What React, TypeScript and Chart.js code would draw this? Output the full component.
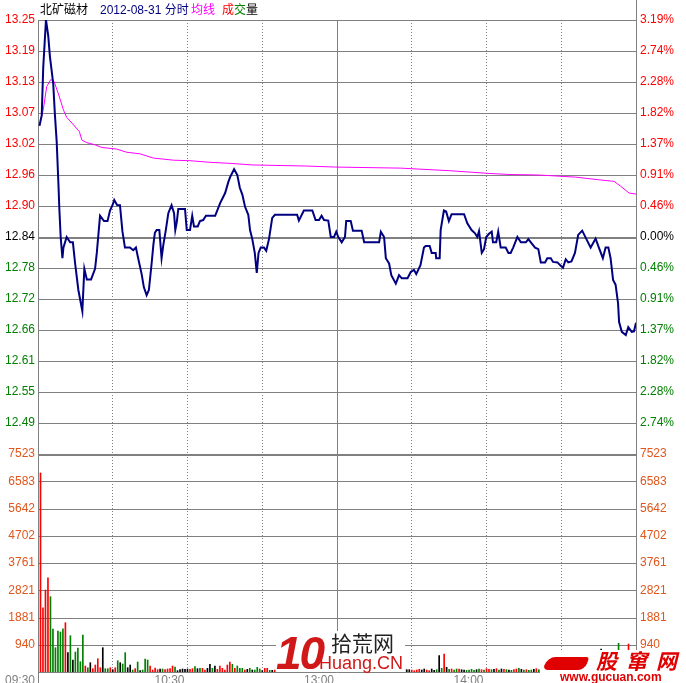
import React, { useEffect, useRef } from 'react';
import { Chart, registerables } from 'chart.js';

Chart.register(...registerables);

// ---------- data ----------
const prevClose = 12.84;
const maxPct = 3.19;
const priceTickLabels = ['13.25', '13.19', '13.13', '13.07', '13.02', '12.96', '12.90', '12.84', '12.78', '12.72', '12.66', '12.61', '12.55', '12.49'];
const pctTickLabels = ['3.19%', '2.74%', '2.28%', '1.82%', '1.37%', '0.91%', '0.46%', '0.00%', '0.46%', '0.91%', '1.37%', '1.82%', '2.28%', '2.74%'];
const volMax = 7523;
const volTickLabels = ['7523', '6583', '5642', '4702', '3761', '2821', '1881', '940'];
const timeTicks = [0, 60, 120, 180];
const timeLabels = ['09:30', '10:30', '13:00', '14:00'];
const gridMinutes = [30, 60, 90, 120, 150, 180, 210];

const priceMinutes = [
  0.6, 1.5, 2.1, 3.2, 4.1, 4.8, 6.1, 6.8, 7.5, 8.2, 8.6, 9.1, 9.8, 10.2, 11.5, 12.9, 14.0, 14.9, 16.2, 17.2,
  17.8, 18.6, 19.6, 21.3, 22.9, 23.6, 24.9, 26.5, 27.9, 28.9, 29.9, 30.6, 31.8, 32.9, 33.9, 34.9, 36.9, 38.2, 39.3, 40.2,
  41.6, 42.5, 43.6, 44.5, 45.6, 46.3, 46.9, 47.6, 48.7, 49.6, 50.3, 51.3, 52.3, 53.6, 54.6, 55.1, 55.7, 56.3, 59.0, 59.7,
  61.0, 61.9, 62.6, 64.1, 65.0, 66.3, 67.4, 71.1, 73.1, 75.1, 76.4, 77.1, 78.7, 80.0, 81.0, 82.0, 83.1, 84.4, 85.1, 86.0,
  87.0, 87.8, 88.5, 89.4, 90.7, 91.6, 92.7, 94.0, 95.1, 104.0, 104.7, 106.7, 110.1, 111.4, 112.8, 113.8, 114.8, 116.5, 117.5, 118.8,
  119.7, 120.5, 121.9, 123.2, 123.7, 125.5, 126.4, 129.9, 130.9, 136.9, 137.6, 138.9, 139.6, 140.9, 141.8, 143.6, 144.9, 146.0, 148.3, 149.6,
  150.9, 151.8, 153.5, 154.9, 155.6, 157.2, 158.0, 159.6, 159.8, 161.2, 161.6, 162.9, 163.8, 164.9, 166.0, 171.0, 172.3, 174.0, 175.4, 176.3,
  177.0, 178.1, 179.0, 179.9, 181.0, 182.1, 182.6, 183.9, 184.7, 185.7, 187.7, 188.8, 189.7, 190.7, 192.4, 193.8, 195.8, 196.8, 197.8, 199.5,
  200.8, 201.8, 203.5, 204.4, 205.8, 206.7, 208.5, 209.5, 210.7, 211.8, 212.8, 214.1, 215.5, 216.8, 218.4, 220.0, 221.8, 223.8, 225.1, 226.7,
  227.8, 228.9, 229.8, 230.8, 231.8, 232.8, 233.2, 234.3, 235.9, 236.9, 238.3, 239.2, 240.0,
];
const priceValues = [
  13.05, 13.07, 13.16, 13.25, 13.22, 13.18, 13.13, 13.07, 13.02, 12.94, 12.89, 12.84, 12.80, 12.82, 12.84, 12.83, 12.83, 12.79, 12.74, 12.715,
  12.70, 12.78, 12.76, 12.76, 12.78, 12.81, 12.88, 12.87, 12.87, 12.89, 12.90, 12.91, 12.90, 12.90, 12.85, 12.82, 12.82, 12.815, 12.82, 12.80,
  12.77, 12.745, 12.73, 12.74, 12.79, 12.825, 12.848, 12.853, 12.853, 12.80, 12.825, 12.853, 12.885, 12.90, 12.885, 12.853, 12.868, 12.893, 12.893, 12.853,
  12.853, 12.88, 12.86, 12.86, 12.87, 12.872, 12.88, 12.88, 12.904, 12.923, 12.944, 12.953, 12.968, 12.957, 12.933, 12.92, 12.897, 12.882, 12.853, 12.836,
  12.81, 12.772, 12.81, 12.82, 12.82, 12.814, 12.836, 12.876, 12.882, 12.882, 12.871, 12.89, 12.89, 12.872, 12.872, 12.88, 12.872, 12.871, 12.84, 12.84,
  12.85, 12.84, 12.83, 12.84, 12.87, 12.87, 12.852, 12.852, 12.83, 12.83, 12.85, 12.84, 12.80, 12.79, 12.768, 12.752, 12.768, 12.762, 12.762, 12.774,
  12.778, 12.77, 12.787, 12.82, 12.823, 12.823, 12.81, 12.81, 12.80, 12.80, 12.853, 12.89, 12.888, 12.87, 12.883, 12.883, 12.866, 12.853, 12.847, 12.84,
  12.851, 12.81, 12.817, 12.84, 12.846, 12.85, 12.83, 12.83, 12.85, 12.82, 12.82, 12.81, 12.81, 12.82, 12.84, 12.83, 12.83, 12.836, 12.83, 12.82,
  12.817, 12.792, 12.792, 12.80, 12.80, 12.793, 12.792, 12.787, 12.782, 12.798, 12.792, 12.794, 12.81, 12.844, 12.852, 12.837, 12.82, 12.837, 12.82, 12.80,
  12.82, 12.82, 12.80, 12.759, 12.75, 12.715, 12.68, 12.661, 12.655, 12.67, 12.661, 12.662, 12.678,
];

const avgMinutes = [
  0.6, 2.1, 3.5, 5.1, 6.4, 8.2, 10.2, 11.5, 14.2, 16.6, 17.6, 19.6, 22.9, 25.6, 31.5, 35.6, 40.9, 46.3,
  54.3, 61.0, 69.0, 77.1, 85.9, 107.4, 119.5, 145.6, 165.7, 181.0, 189.0, 201.1, 215.8, 225.1, 231.2, 233.8, 237.2, 240.0,
];
const avgValues = [
  13.05, 13.08, 13.124, 13.137, 13.134, 13.11, 13.08, 13.066, 13.052, 13.039, 13.023, 13.018, 13.014, 13.009, 13.006, 13.0, 12.997, 12.989,
  12.985, 12.984, 12.981, 12.979, 12.976, 12.974, 12.972, 12.97, 12.965, 12.96, 12.958, 12.957, 12.953, 12.948, 12.945, 12.936, 12.923, 12.921,
];

// one bar per minute, minutes 1..240
const volumes = [
  6870, 2218, 2829, 3253, 2598, 1484, 839, 1415, 1380, 1494,
  1701, 666, 1252, 414, 690, 828, 355, 1277, 207, 148,
  321, 114, 241, 459, 148, 839, 114, 114, 148, 80,
  148, 390, 321, 276, 666, 148, 241, 69, 114, 345,
  46, 69, 448, 414, 207, 69, 138, 80, 103, 103,
  80, 103, 114, 207, 172, 46, 80, 103, 92, 103,
  92, 114, 184, 114, 126, 126, 69, 126, 264, 126,
  207, 92, 207, 126, 69, 241, 345, 264, 126, 207,
  126, 126, 69, 92, 126, 69, 69, 161, 103, 46,
  126, 126, 57, 57, 69, 92, 115, 80, 138, 69,
  104, 150, 92, 69, 115, 184, 126, 80, 69, 92,
  138, 104, 80, 115, 69, 92, 161, 207, 126, 80,
  230, 184, 138, 253, 115, 92, 161, 80, 104, 69,
  138, 92, 80, 115, 69, 104, 150, 196, 138, 276,
  184, 230, 161, 115, 92, 138, 104, 80, 80, 69,
  46, 69, 92, 69, 103, 69, 46, 103, 57, 80,
  563, 126, 621, 161, 92, 103, 69, 103, 103, 80,
  69, 57, 69, 92, 57, 80, 103, 80, 69, 115,
  92, 80, 92, 115, 69, 104, 92, 80, 69, 57,
  80, 104, 126, 92, 69, 80, 57, 69, 92, 115,
  80, 104, 161, 92, 69, 80, 104, 92, 69, 57,
  115, 138, 92, 80, 104, 126, 184, 230, 138, 115,
  92, 104, 138, 161, 207, 790, 230, 253, 207, 276,
  345, 414, 990, 299, 230, 253, 966, 207, 184, 276,
];
const volColors =
  'rrrrgggggg' + 'rkgkggggrg' + 'krrrrkggrk' + 'rgkggkkgrg' + 'kgggrrrrkg' + 'rrrrgkkkkk' +
  'rrgkgrrkkg' + 'krrrrrrgrg' + 'ggrkgkgggk' + 'rrgkrgkrgr' + 'kggrkrgkgr' + 'gkrgkgrrgk' +
  'rgrrkggrkg' + 'rkgrgkrrgr' + 'rgrgkrgkkr' + 'rrrkkrrkkg' + 'kgrkgrggrk' + 'kggggkgrgr' +
  'rgkrgkrgkg' + 'rrgkgrggkr' + 'ggggkrkggr' + 'gkrgkrrrgk' + 'grgrrkkrgk' + 'ggggrkrrgk';

// ---------- styling ----------
const RED = '#FF0000';
const GREEN = '#008000';
const BLACK = '#000000';
const NAVY = '#000080';
const MAGENTA = '#FF00FF';
const GRIDC = '#808080';
const VOLC = '#E0561B';
const FONT = { family: 'Liberation Sans, Arial, sans-serif', size: 12 };

const step = (prevClose * maxPct) / 100 / 7;
const priceTickValues = priceTickLabels.map((_, i) => prevClose + (7 - i) * step);
const volTickValues = volTickLabels.map((_, i) => (volMax * (8 - i)) / 8);

function hLine(ctx: CanvasRenderingContext2D, left: number, right: number, py: number, w: number) {
  const y = w === 2 ? Math.round(py) + 1 : Math.round(py) + 0.5;
  ctx.lineWidth = w;
  ctx.setLineDash([]);
  ctx.beginPath();
  ctx.moveTo(left, y);
  ctx.lineTo(right + 1, y);
  ctx.stroke();
}
function vLine(ctx: CanvasRenderingContext2D, px: number, y0: number, y1: number, dashed: boolean) {
  const x = Math.floor(px) + 0.5;
  ctx.lineWidth = 1;
  ctx.setLineDash(dashed ? [1, 2] : []);
  ctx.beginPath();
  ctx.moveTo(x, y0);
  ctx.lineTo(x, y1);
  ctx.stroke();
  ctx.setLineDash([]);
}

const priceGrid = {
  id: 'priceGrid',
  beforeDatasetsDraw(chart: any) {
    const { ctx, chartArea: a, scales } = chart;
    ctx.save();
    ctx.strokeStyle = GRIDC;
    priceTickValues.forEach((v, i) => hLine(ctx, a.left, a.right, scales.y.getPixelForValue(v), i === 7 ? 2 : 1));
    gridMinutes.forEach((m) => vLine(ctx, scales.x.getPixelForValue(m), a.top, a.bottom, m !== 120));
    vLine(ctx, scales.x.getPixelForValue(0), a.top, a.bottom, false);
    vLine(ctx, scales.x.getPixelForValue(240), 0, a.bottom, false);
    ctx.restore();
  },
};

const volGrid = {
  id: 'volGrid',
  beforeDatasetsDraw(chart: any) {
    const { ctx, chartArea: a, scales } = chart;
    ctx.save();
    ctx.strokeStyle = GRIDC;
    volTickValues.forEach((v, i) => hLine(ctx, a.left, a.right, scales.y.getPixelForValue(v), i === 0 ? 2 : 1));
    hLine(ctx, a.left, a.right, scales.y.getPixelForValue(0), 1);
    gridMinutes.forEach((m) => vLine(ctx, scales.x.getPixelForValue(m), a.top, a.bottom, m !== 120));
    vLine(ctx, scales.x.getPixelForValue(0), a.top, chart.height, false);
    vLine(ctx, scales.x.getPixelForValue(240), a.top, chart.height, false);
    ctx.restore();
  },
};

function fixWidth(w: number) {
  return (s: any) => {
    s.width = w;
    s.paddingTop = 0;
    s.paddingBottom = 0;
  };
}

export default function App() {
  const topRef = useRef<HTMLCanvasElement>(null);
  const botRef = useRef<HTMLCanvasElement>(null);

  useEffect(() => {
    const priceColor = (c: any) => (c.index < 7 ? RED : c.index === 7 ? BLACK : GREEN);
    const top = new Chart(topRef.current as HTMLCanvasElement, {
      type: 'line',
      data: {
        datasets: [
          {
            data: priceMinutes.map((m, i) => ({ x: m, y: priceValues[i] })),
            borderColor: NAVY,
            borderWidth: 2,
            pointRadius: 0,
            tension: 0,
            yAxisID: 'y',
          },
          {
            data: avgMinutes.map((m, i) => ({ x: m, y: avgValues[i] })),
            borderColor: MAGENTA,
            borderWidth: 1,
            pointRadius: 0,
            tension: 0,
            yAxisID: 'y',
          },
        ],
      },
      options: {
        animation: false,
        responsive: false,
        devicePixelRatio: 1,
        layout: { padding: { top: 20, bottom: 12, left: 0, right: 0 } },
        plugins: { legend: { display: false }, tooltip: { enabled: false } },
        scales: {
          x: { type: 'linear', min: 0, max: 240, display: false },
          y: {
            type: 'linear',
            position: 'left',
            min: prevClose - 7 * step,
            max: prevClose + 7 * step,
            afterBuildTicks: (s: any) => {
              s.ticks = priceTickValues.map((v) => ({ value: v }));
            },
            afterFit: fixWidth(38),
            grid: { display: false, drawTicks: false },
            border: { display: false },
            ticks: {
              autoSkip: false,
              padding: 3,
              font: FONT,
              color: priceColor,
              callback: (_v: any, i: number) => priceTickLabels[i],
            },
          },
          y2: {
            type: 'linear',
            position: 'right',
            min: prevClose - 7 * step,
            max: prevClose + 7 * step,
            afterBuildTicks: (s: any) => {
              s.ticks = priceTickValues.map((v) => ({ value: v }));
            },
            afterFit: fixWidth(50),
            grid: { display: false, drawTicks: false },
            border: { display: false },
            ticks: {
              autoSkip: false,
              padding: 4,
              font: FONT,
              color: priceColor,
              callback: (_v: any, i: number) => pctTickLabels[i],
            },
          },
        },
      } as any,
      plugins: [priceGrid],
    });

    const bot = new Chart(botRef.current as HTMLCanvasElement, {
      type: 'bar',
      data: {
        datasets: [
          {
            data: volumes.map((v, i) => ({ x: i + 1, y: v })),
            backgroundColor: volumes.map((_, i) => {
              const c = volColors[i];
              return c === 'r' ? RED : c === 'g' ? GREEN : BLACK;
            }),
            barThickness: 1,
            grouped: false,
          } as any,
        ],
      },
      options: {
        animation: false,
        responsive: false,
        devicePixelRatio: 1,
        layout: { padding: { top: 14, bottom: 0, left: 0, right: 0 } },
        plugins: { legend: { display: false }, tooltip: { enabled: false } },
        scales: {
          x: {
            type: 'linear',
            min: 0,
            max: 240,
            offset: false,
            afterBuildTicks: (s: any) => {
              s.ticks = timeTicks.map((v) => ({ value: v }));
            },
            afterFit: (s: any) => {
              s.height = 11;
              s.paddingLeft = 0;
              s.paddingRight = 0;
            },
            grid: { display: false, drawTicks: false, offset: false },
            border: { display: false },
            ticks: {
              autoSkip: false,
              maxRotation: 0,
              align: 'end',
              labelOffset: -3,
              padding: 1,
              font: FONT,
              color: GRIDC,
              callback: (_v: any, i: number) => timeLabels[i],
            },
          },
          y: {
            type: 'linear',
            position: 'left',
            min: 0,
            max: volMax,
            afterBuildTicks: (s: any) => {
              s.ticks = volTickValues.map((v) => ({ value: v }));
            },
            afterFit: fixWidth(38),
            grid: { display: false, drawTicks: false },
            border: { display: false },
            ticks: {
              autoSkip: false,
              padding: 3,
              font: FONT,
              color: VOLC,
              callback: (_v: any, i: number) => volTickLabels[i],
            },
          },
          y2: {
            type: 'linear',
            position: 'right',
            min: 0,
            max: volMax,
            afterBuildTicks: (s: any) => {
              s.ticks = volTickValues.map((v) => ({ value: v }));
            },
            afterFit: fixWidth(50),
            grid: { display: false, drawTicks: false },
            border: { display: false },
            ticks: {
              autoSkip: false,
              padding: 4,
              font: FONT,
              color: VOLC,
              callback: (_v: any, i: number) => volTickLabels[i],
            },
          },
        },
      } as any,
      plugins: [volGrid],
    });

    return () => {
      top.destroy();
      bot.destroy();
    };
  }, []);

  const hdr: React.CSSProperties = {
    position: 'absolute',
    top: 4,
    fontFamily: '"Liberation Sans", "Noto Sans CJK SC", sans-serif',
    fontSize: 12,
    lineHeight: '12px',
    whiteSpace: 'nowrap',
  };

  return (
    <div style={{ position: 'absolute', left: 0, top: 0, width: 686, height: 683, background: '#fff', overflow: 'hidden' }}>
      <canvas ref={topRef} width={686} height={466} style={{ position: 'absolute', left: 0, top: 0, width: 686, height: 466 }} />
      <canvas ref={botRef} width={686} height={243} style={{ position: 'absolute', left: 0, top: 440, width: 686, height: 243 }} />

      <span style={{ ...hdr, left: 40, color: BLACK }}>北矿磁材</span>
      <span style={{ ...hdr, left: 100, color: NAVY }}>2012-08-31 分时</span>
      <span style={{ ...hdr, left: 191, color: MAGENTA }}>均线</span>
      <span style={{ ...hdr, left: 222 }}>
        <span style={{ color: RED }}>成</span>
        <span style={{ color: GREEN }}>交</span>
        <span style={{ color: BLACK }}>量</span>
      </span>

      {/* watermark: 10 拾荒网 Huang.CN */}
      <div style={{ position: 'absolute', left: 276, top: 631, width: 129, height: 41, background: '#fff' }} />
      <span
        style={{
          position: 'absolute', left: 276, top: 630, fontFamily: '"Liberation Sans Narrow", "Liberation Sans", sans-serif',
          fontWeight: 'bold', fontStyle: 'italic', fontSize: 46, lineHeight: '46px', color: '#D01818', letterSpacing: -2,
        }}
      >
        10
      </span>
      <span
        style={{
          position: 'absolute', left: 331, top: 630, fontFamily: '"Noto Sans CJK SC", sans-serif', fontSize: 21,
          lineHeight: '24px', color: '#222',
        }}
      >
        拾荒网
      </span>
      <span
        style={{
          position: 'absolute', left: 319, top: 653, fontFamily: '"Liberation Sans", sans-serif', fontSize: 18,
          lineHeight: '20px', color: '#D01818',
        }}
      >
        Huang.CN
      </span>

      {/* watermark: 股窜网 gucuan.com */}
      <div style={{ position: 'absolute', left: 540, top: 650, width: 146, height: 33, background: '#fff' }} />
      <div
        style={{
          position: 'absolute', left: 545, top: 657, width: 42, height: 13, background: '#E00000',
          borderRadius: '10px 4px 8px 6px', transform: 'skewX(-20deg)',
        }}
      />
      <span
        style={{
          position: 'absolute', left: 596, top: 648, fontFamily: '"Noto Sans CJK SC", sans-serif', fontWeight: 'bold',
          fontStyle: 'italic', fontSize: 21, lineHeight: '24px', letterSpacing: 9, color: '#E00000',
        }}
      >
        股窜网
      </span>
      <span
        style={{
          position: 'absolute', left: 560, top: 671, fontFamily: '"Liberation Sans", sans-serif', fontWeight: 'bold',
          fontSize: 12, lineHeight: '12px', color: '#E00000',
        }}
      >
        www.gucuan.com
      </span>
    </div>
  );
}
